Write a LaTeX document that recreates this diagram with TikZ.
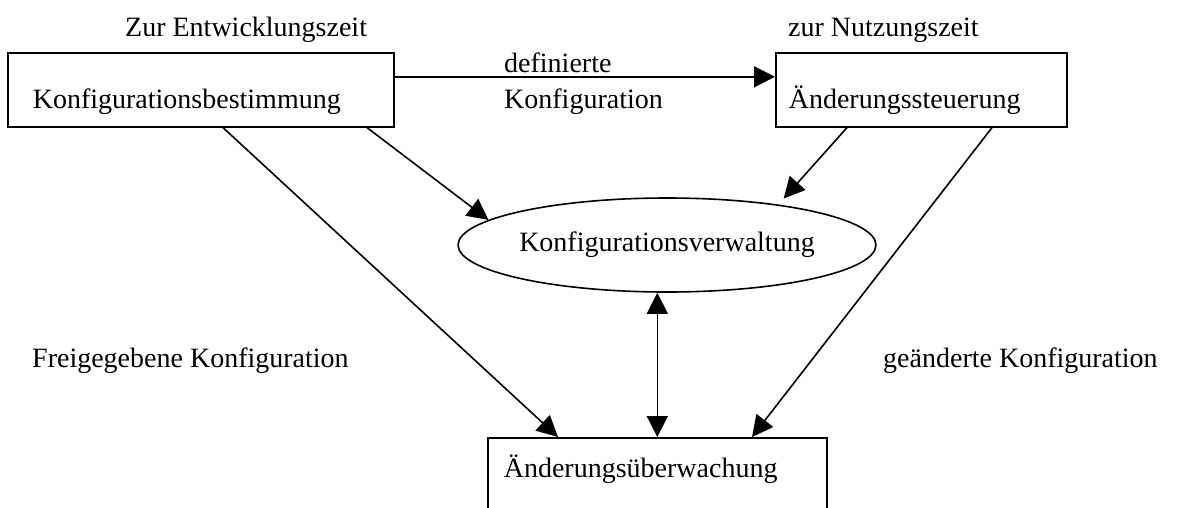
\documentclass[tikz,border=0pt]{standalone}
\usepackage{fontspec}
\setmainfont{Liberation Serif}
\usetikzlibrary{arrows.meta,shapes.geometric}

\begin{document}
\begin{tikzpicture}[
  x=1pt,y=-1pt,
  every node/.style={font=\fontsize{28}{36}\selectfont},
  box/.style={
    draw=black,line width=1.6pt,align=left,
    inner ysep=0pt,text height=56pt,text depth=18pt,
    anchor=north west
  },
  oval/.style={
    ellipse,draw=black,line width=1.6pt,inner sep=0pt,
    minimum width=410pt,minimum height=94pt
  },
  txt/.style={anchor=base west,inner sep=0pt},
  arrow/.style={-{Triangle[length=21pt,width=21pt]},draw=black,line width=1.6pt},
  twoway/.style={{Triangle[length=21pt,width=21pt]}-{Triangle[length=21pt,width=21pt]},
    draw=black,line width=1.6pt}
]
\clip (0,0) rectangle (1177,507);

\node[box,inner xsep=25pt,text width=336pt] (bestimmung) at (7,52)
  {Konfigurationsbestimmung};
\node[box,inner xsep=13pt,text width=265pt] (steuerung) at (775,52)
  {Änderungssteuerung};
\node[oval] (verwaltung) at (667,245) {Konfigurationsverwaltung};
\node[box,inner xsep=16pt,text width=307pt,text height=40pt,text depth=60pt]
  (ueberwachung) at (487,437) {Änderungsüberwachung};

\node[txt] (entwicklung) at (125,36) {Zur Entwicklungszeit};
\node[txt] (nutzung) at (788,36) {zur Nutzungszeit};
\node[txt] (definiert) at (504,72) {definierte};
\node[txt] (definiert2) at (504,108) {Konfiguration};
\node[txt] (freigegeben) at (32,367) {Freigegebene Konfiguration};
\node[txt] (geaendert) at (883,367) {geänderte Konfiguration};

\draw[arrow] ([yshift=13]bestimmung.east) -- ([yshift=13]steuerung.west);
\draw[arrow] ([xshift=360]bestimmung.south west) -- (verwaltung.172);
\draw[arrow,shorten >=8pt] ([xshift=72]steuerung.south west) -- (verwaltung.20);
\draw[arrow] ([xshift=216]bestimmung.south west)
  -- ([xshift=71]ueberwachung.north west);
\draw[arrow] ([xshift=217]steuerung.south west)
  -- ([xshift=265]ueberwachung.north west);
\draw[twoway] (ueberwachung.north |- verwaltung.south) -- (ueberwachung.north);

\end{tikzpicture}
\end{document}
